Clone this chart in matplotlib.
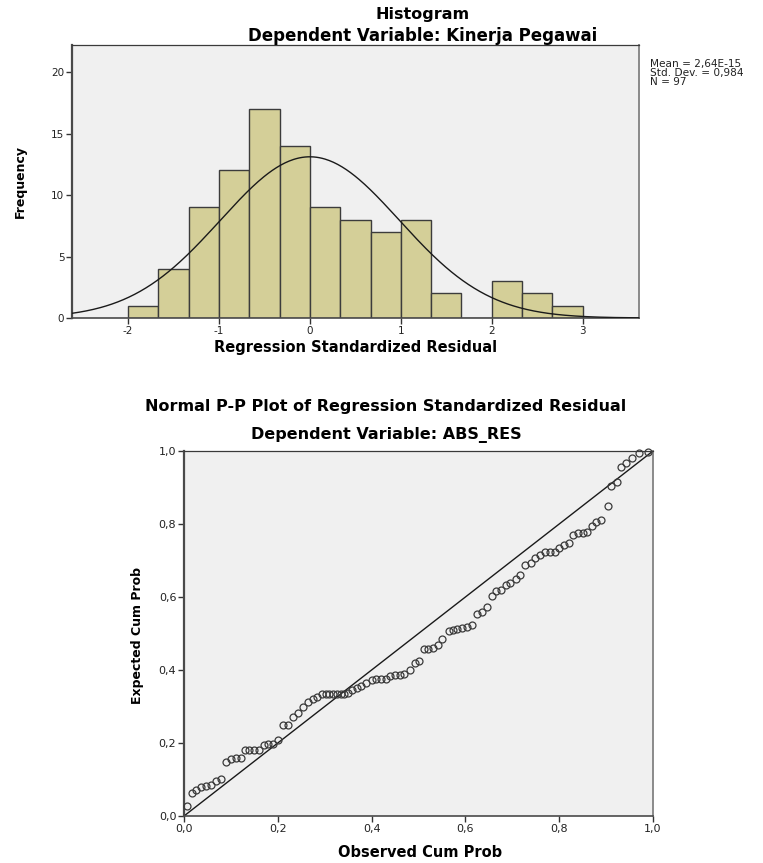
import numpy as np
import matplotlib
matplotlib.use("Agg")
import matplotlib.pyplot as plt

plt.rcParams['font.family'] = ['DejaVu Sans']
plt.rcParams['axes.unicode_minus'] = False

# Histogram of standardized residuals
bin_edges = [-2.0, -1.667, -1.333, -1.0, -0.667, -0.333, 0.0, 0.333, 0.667,
             1.0, 1.333, 1.667, 2.0, 2.333, 2.667, 3.0]
frequencies = [1, 4, 9, 12, 17, 14, 9, 8, 7, 8, 2, 0, 3, 2, 1]
res_mean = 2.64e-15
res_std = 0.984
n_obs = 97
hist_xticks = [-2, -1, 0, 1, 2, 3]
hist_yticks = [0, 5, 10, 15, 20]

# Normal P-P plot points
observed_cum = [0.007, 0.016, 0.026, 0.036, 0.046, 0.057, 0.068, 0.079, 0.089, 0.100,
                0.111, 0.121, 0.129, 0.139, 0.150, 0.160, 0.171, 0.180, 0.190, 0.201,
                0.211, 0.221, 0.232, 0.243, 0.253, 0.264, 0.275, 0.284, 0.294, 0.302,
                0.310, 0.318, 0.326, 0.334, 0.342, 0.350, 0.358, 0.368, 0.378, 0.389,
                0.400, 0.410, 0.420, 0.430, 0.440, 0.450, 0.460, 0.470, 0.482, 0.493,
                0.502, 0.511, 0.521, 0.531, 0.542, 0.551, 0.564, 0.573, 0.583, 0.593,
                0.603, 0.614, 0.625, 0.636, 0.646, 0.656, 0.666, 0.676, 0.686, 0.696,
                0.707, 0.717, 0.728, 0.739, 0.749, 0.760, 0.770, 0.780, 0.790, 0.800,
                0.810, 0.820, 0.830, 0.840, 0.850, 0.860, 0.869, 0.878, 0.889, 0.903,
                0.910, 0.924, 0.932, 0.942, 0.955, 0.970, 0.990]
expected_cum = [0.028, 0.063, 0.070, 0.079, 0.083, 0.084, 0.097, 0.102, 0.148, 0.155,
                0.159, 0.160, 0.181, 0.182, 0.182, 0.182, 0.195, 0.197, 0.198, 0.207,
                0.250, 0.250, 0.271, 0.281, 0.299, 0.312, 0.320, 0.326, 0.333, 0.333,
                0.333, 0.333, 0.333, 0.333, 0.334, 0.338, 0.345, 0.350, 0.356, 0.365,
                0.373, 0.374, 0.374, 0.374, 0.384, 0.386, 0.387, 0.388, 0.399, 0.420,
                0.426, 0.457, 0.458, 0.459, 0.469, 0.485, 0.508, 0.510, 0.512, 0.515,
                0.518, 0.524, 0.553, 0.558, 0.572, 0.604, 0.617, 0.619, 0.634, 0.637,
                0.648, 0.659, 0.687, 0.694, 0.707, 0.716, 0.722, 0.722, 0.723, 0.735,
                0.742, 0.749, 0.771, 0.775, 0.776, 0.779, 0.795, 0.805, 0.812, 0.850,
                0.905, 0.916, 0.955, 0.967, 0.980, 0.995, 0.998]
pp_ticks = [0.0, 0.2, 0.4, 0.6, 0.8, 1.0]
pp_ticklabels = ['0,0', '0,2', '0,4', '0,6', '0,8', '1,0']

W, H = 763, 863
fig = plt.figure(figsize=(W / 100, H / 100), dpi=100)
fig.patch.set_facecolor('white')


def style_axes(ax, labelsize):
    ax.set_facecolor('#f0f0f0')
    ax.spines['left'].set_color('#4a4a4a')
    ax.spines['left'].set_linewidth(1.6)
    ax.spines['bottom'].set_color('#4a4a4a')
    ax.spines['bottom'].set_linewidth(1.2)
    ax.spines['top'].set_color('#3a3a3a')
    ax.spines['top'].set_linewidth(0.9)
    ax.spines['right'].set_color('#8a8a8a')
    ax.spines['right'].set_linewidth(1.4)
    ax.tick_params(direction='out', length=4, width=1, colors='#333333',
                   labelsize=labelsize, labelcolor='#222222', pad=1.5)


# ---- Histogram ----
ax1 = fig.add_axes([72 / W, 1 - 318 / H, 567 / W, 273 / H])
style_axes(ax1, 7.5)
lefts = np.array(bin_edges[:-1])
widths = np.diff(bin_edges)
ax1.bar(lefts, frequencies, width=widths, align='edge', color='#d4cf98',
        edgecolor='#3c3c3c', linewidth=1.0, zorder=2)

xlo, xhi = -2.616, 3.62
xs = np.linspace(xlo, xhi, 400)
bw = widths.mean()
ys = n_obs * bw / (res_std * np.sqrt(2 * np.pi)) * np.exp(-0.5 * ((xs - res_mean) / res_std) ** 2)
ax1.plot(xs, ys, color='#1a1a1a', linewidth=1.0, zorder=3)
ax1.set_xlim(xlo, xhi)
ax1.set_ylim(0, 22.2)
ax1.set_xticks(hist_xticks)
ax1.set_yticks(hist_yticks)

fig.text(423 / W, 1 - 14 / H, 'Histogram', ha='center', va='center',
         fontsize=11.5, fontweight='bold')
fig.text(423 / W, 1 - 36 / H, 'Dependent Variable: Kinerja Pegawai', ha='center',
         va='center', fontsize=12, fontweight='bold')
fig.text(356 / W, 1 - 347 / H, 'Regression Standardized Residual', ha='center',
         va='center', fontsize=10.5, fontweight='bold')
fig.text(20 / W, 1 - 182 / H, 'Frequency', ha='center', va='center',
         rotation=90, fontsize=9, fontweight='bold')
fig.text(650 / W, 1 - 59 / H,
         'Mean = 2,64E-15\nStd. Dev. = 0,984\nN = %d' % n_obs,
         ha='left', va='top', fontsize=7.6, linespacing=0.85, color='#222222')

# ---- Normal P-P plot ----
ax2 = fig.add_axes([184 / W, 1 - 816 / H, 469 / W, 365 / H])
style_axes(ax2, 8)
ax2.plot([0, 1], [0, 1], color='#1a1a1a', linewidth=1.0, zorder=2)
ax2.plot(observed_cum, expected_cum, linestyle='none', marker='o', markersize=5,
         markerfacecolor='none', markeredgecolor='#3a3a3a', markeredgewidth=0.9,
         zorder=3, clip_on=False)
ax2.set_xlim(0, 1)
ax2.set_ylim(0, 1)
ax2.set_xticks(pp_ticks)
ax2.set_xticklabels(pp_ticklabels)
ax2.set_yticks(pp_ticks)
ax2.set_yticklabels(pp_ticklabels)

fig.text(386 / W, 1 - 407 / H, 'Normal P-P Plot of Regression Standardized Residual',
         ha='center', va='center', fontsize=11.5, fontweight='bold')
fig.text(386 / W, 1 - 435 / H, 'Dependent Variable: ABS_RES', ha='center',
         va='center', fontsize=11.5, fontweight='bold')
fig.text(420 / W, 1 - 852 / H, 'Observed Cum Prob', ha='center', va='center',
         fontsize=10.5, fontweight='bold')
fig.text(137 / W, 1 - 635 / H, 'Expected Cum Prob', ha='center', va='center',
         rotation=90, fontsize=9, fontweight='bold')

fig.savefig('out.png', dpi=100)
